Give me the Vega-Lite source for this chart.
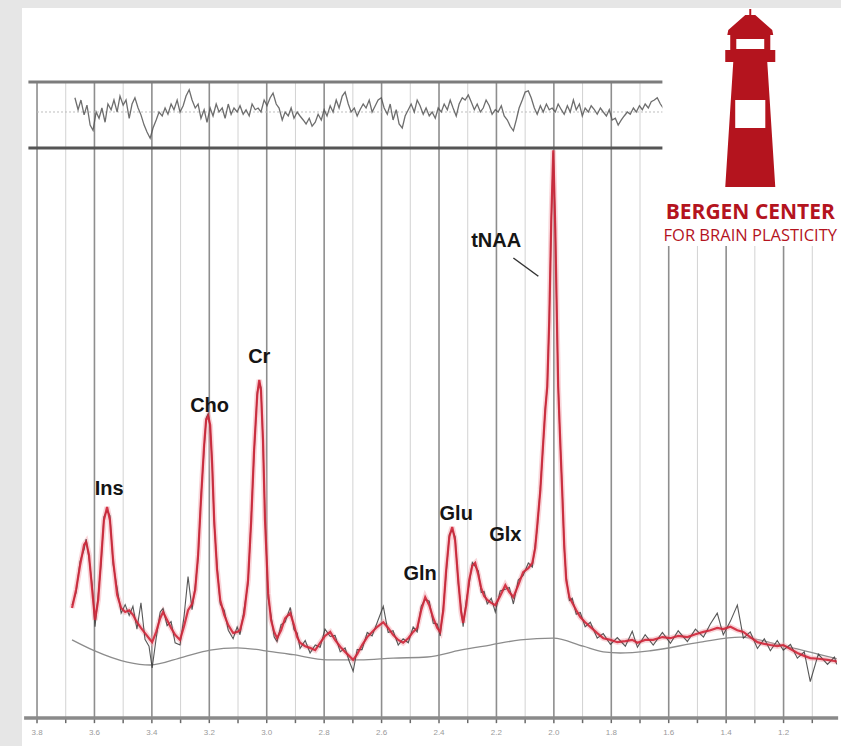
{
  "$schema": "https://vega.github.io/schema/vega-lite/v6.json",
  "padding": {"left": 22, "top": 8, "right": 0, "bottom": 0},
  "background": "#e6e6e6",
  "spacing": 0,
  "bounds": "flush",
  "config": {"view": {"fill": "white", "stroke": null}, "font": "Liberation Sans", "concat": {"spacing": 0}},
  "datasets": {
    "grid": [
      {"ppm": 3.8, "kind": "major"}, {"ppm": 3.7, "kind": "minor"}, {"ppm": 3.6, "kind": "major"}, {"ppm": 3.5, "kind": "minor"},
      {"ppm": 3.4, "kind": "major"}, {"ppm": 3.3, "kind": "minor"}, {"ppm": 3.2, "kind": "major"}, {"ppm": 3.1, "kind": "minor"},
      {"ppm": 3.0, "kind": "major"}, {"ppm": 2.9, "kind": "minor"}, {"ppm": 2.8, "kind": "major"}, {"ppm": 2.7, "kind": "minor"},
      {"ppm": 2.6, "kind": "major"}, {"ppm": 2.5, "kind": "minor"}, {"ppm": 2.4, "kind": "major"}, {"ppm": 2.3, "kind": "minor"},
      {"ppm": 2.2, "kind": "major"}, {"ppm": 2.1, "kind": "minor"}, {"ppm": 2.0, "kind": "major"}, {"ppm": 1.9, "kind": "minor"},
      {"ppm": 1.8, "kind": "major"}, {"ppm": 1.7, "kind": "minor"}, {"ppm": 1.6, "kind": "major"}, {"ppm": 1.5, "kind": "minor"},
      {"ppm": 1.4, "kind": "major"}, {"ppm": 1.3, "kind": "minor"}, {"ppm": 1.2, "kind": "major"}, {"ppm": 1.1, "kind": "minor"}
    ],
    "spectrum": [
      {"ppm": 3.678, "fit": 19.3, "data": 19.8}, {"ppm": 3.664, "fit": 22.5, "data": 22.0}, {"ppm": 3.650, "fit": 26.8, "data": 27.5},
      {"ppm": 3.636, "fit": 30.4, "data": 29.6}, {"ppm": 3.629, "fit": 30.9, "data": 31.4}, {"ppm": 3.619, "fit": 28.6, "data": 28.0},
      {"ppm": 3.608, "fit": 22.5, "data": 23.4}, {"ppm": 3.598, "fit": 17.2, "data": 16.0}, {"ppm": 3.587, "fit": 20.7, "data": 21.5},
      {"ppm": 3.577, "fit": 27.7, "data": 27.0}, {"ppm": 3.567, "fit": 34.7, "data": 35.3}, {"ppm": 3.556, "fit": 37.0, "data": 36.4},
      {"ppm": 3.546, "fit": 34.7, "data": 35.5}, {"ppm": 3.535, "fit": 27.7, "data": 27.0}, {"ppm": 3.521, "fit": 21.6, "data": 22.8},
      {"ppm": 3.507, "fit": 19.3, "data": 18.4}, {"ppm": 3.493, "fit": 18.6, "data": 19.9}, {"ppm": 3.479, "fit": 18.9, "data": 18.0},
      {"ppm": 3.466, "fit": 18.1, "data": 19.6}, {"ppm": 3.452, "fit": 16.8, "data": 15.6}, {"ppm": 3.438, "fit": 15.8, "data": 20.2},
      {"ppm": 3.424, "fit": 14.9, "data": 13.8}, {"ppm": 3.410, "fit": 14.0, "data": 12.6}, {"ppm": 3.399, "fit": 13.3, "data": 8.8},
      {"ppm": 3.385, "fit": 15.1, "data": 14.0}, {"ppm": 3.371, "fit": 17.5, "data": 18.6}, {"ppm": 3.361, "fit": 18.6, "data": 19.2},
      {"ppm": 3.347, "fit": 17.2, "data": 16.2}, {"ppm": 3.333, "fit": 15.8, "data": 16.9}, {"ppm": 3.319, "fit": 14.6, "data": 13.2},
      {"ppm": 3.302, "fit": 13.7, "data": 12.8}, {"ppm": 3.288, "fit": 16.1, "data": 17.8}, {"ppm": 3.274, "fit": 18.9, "data": 24.8},
      {"ppm": 3.260, "fit": 20.0, "data": 19.0}, {"ppm": 3.249, "fit": 22.5, "data": 23.2}, {"ppm": 3.239, "fit": 28.6, "data": 28.0},
      {"ppm": 3.229, "fit": 38.2, "data": 38.8}, {"ppm": 3.218, "fit": 47.9, "data": 47.2}, {"ppm": 3.211, "fit": 52.3, "data": 52.6},
      {"ppm": 3.204, "fit": 53.0, "data": 53.4}, {"ppm": 3.197, "fit": 51.4, "data": 51.0}, {"ppm": 3.190, "fit": 44.4, "data": 45.0},
      {"ppm": 3.183, "fit": 34.7, "data": 34.0}, {"ppm": 3.173, "fit": 26.0, "data": 26.8}, {"ppm": 3.162, "fit": 20.7, "data": 20.0},
      {"ppm": 3.148, "fit": 18.1, "data": 18.9}, {"ppm": 3.134, "fit": 16.3, "data": 15.4}, {"ppm": 3.117, "fit": 14.9, "data": 13.9},
      {"ppm": 3.103, "fit": 15.1, "data": 16.0}, {"ppm": 3.093, "fit": 15.4, "data": 14.6}, {"ppm": 3.079, "fit": 18.1, "data": 19.0},
      {"ppm": 3.065, "fit": 24.2, "data": 23.6}, {"ppm": 3.054, "fit": 34.7, "data": 35.2}, {"ppm": 3.044, "fit": 47.0, "data": 46.4},
      {"ppm": 3.033, "fit": 56.7, "data": 57.2}, {"ppm": 3.026, "fit": 59.3, "data": 58.8}, {"ppm": 3.020, "fit": 57.5, "data": 58.0},
      {"ppm": 3.013, "fit": 48.8, "data": 48.2}, {"ppm": 3.006, "fit": 34.7, "data": 35.4}, {"ppm": 2.995, "fit": 21.9, "data": 21.0},
      {"ppm": 2.985, "fit": 17.2, "data": 18.0}, {"ppm": 2.974, "fit": 15.1, "data": 14.2}, {"ppm": 2.964, "fit": 14.0, "data": 13.4},
      {"ppm": 2.950, "fit": 15.4, "data": 16.4}, {"ppm": 2.936, "fit": 17.5, "data": 16.8}, {"ppm": 2.918, "fit": 18.4, "data": 19.4},
      {"ppm": 2.905, "fit": 16.3, "data": 15.5}, {"ppm": 2.894, "fit": 14.2, "data": 14.9}, {"ppm": 2.884, "fit": 13.2, "data": 12.2},
      {"ppm": 2.866, "fit": 12.6, "data": 13.6}, {"ppm": 2.849, "fit": 12.3, "data": 11.4}, {"ppm": 2.831, "fit": 11.9, "data": 12.8},
      {"ppm": 2.814, "fit": 13.2, "data": 12.4}, {"ppm": 2.797, "fit": 14.4, "data": 15.6}, {"ppm": 2.779, "fit": 15.1, "data": 14.3},
      {"ppm": 2.762, "fit": 13.7, "data": 14.5}, {"ppm": 2.744, "fit": 12.5, "data": 11.6}, {"ppm": 2.727, "fit": 11.6, "data": 12.3},
      {"ppm": 2.713, "fit": 10.9, "data": 10.0}, {"ppm": 2.699, "fit": 10.2, "data": 8.2}, {"ppm": 2.685, "fit": 11.2, "data": 12.0},
      {"ppm": 2.668, "fit": 12.8, "data": 12.0}, {"ppm": 2.650, "fit": 14.2, "data": 15.0}, {"ppm": 2.633, "fit": 15.1, "data": 14.4},
      {"ppm": 2.615, "fit": 16.0, "data": 16.8}, {"ppm": 2.594, "fit": 16.8, "data": 19.6}, {"ppm": 2.577, "fit": 15.8, "data": 15.0},
      {"ppm": 2.560, "fit": 14.6, "data": 15.3}, {"ppm": 2.542, "fit": 13.7, "data": 12.8}, {"ppm": 2.525, "fit": 13.2, "data": 13.9},
      {"ppm": 2.507, "fit": 14.0, "data": 13.2}, {"ppm": 2.490, "fit": 15.1, "data": 16.0}, {"ppm": 2.476, "fit": 15.8, "data": 15.1},
      {"ppm": 2.462, "fit": 18.9, "data": 19.6}, {"ppm": 2.448, "fit": 21.2, "data": 20.8}, {"ppm": 2.434, "fit": 19.8, "data": 20.5},
      {"ppm": 2.420, "fit": 17.5, "data": 16.6}, {"ppm": 2.406, "fit": 15.8, "data": 16.5}, {"ppm": 2.396, "fit": 15.1, "data": 14.4},
      {"ppm": 2.385, "fit": 18.9, "data": 19.5}, {"ppm": 2.375, "fit": 26.0, "data": 25.4}, {"ppm": 2.364, "fit": 31.8, "data": 32.2},
      {"ppm": 2.354, "fit": 33.5, "data": 33.0}, {"ppm": 2.344, "fit": 31.2, "data": 31.8}, {"ppm": 2.333, "fit": 24.2, "data": 23.6},
      {"ppm": 2.323, "fit": 18.6, "data": 19.3}, {"ppm": 2.316, "fit": 16.7, "data": 16.0}, {"ppm": 2.305, "fit": 19.8, "data": 20.6},
      {"ppm": 2.295, "fit": 24.2, "data": 23.5}, {"ppm": 2.284, "fit": 26.7, "data": 27.3}, {"ppm": 2.274, "fit": 27.2, "data": 26.6},
      {"ppm": 2.263, "fit": 25.1, "data": 25.8}, {"ppm": 2.253, "fit": 22.8, "data": 22.0}, {"ppm": 2.243, "fit": 21.4, "data": 22.2},
      {"ppm": 2.232, "fit": 20.7, "data": 20.0}, {"ppm": 2.218, "fit": 20.2, "data": 21.0}, {"ppm": 2.204, "fit": 19.8, "data": 18.6},
      {"ppm": 2.187, "fit": 21.4, "data": 22.3}, {"ppm": 2.169, "fit": 23.3, "data": 22.6}, {"ppm": 2.155, "fit": 22.1, "data": 22.9},
      {"ppm": 2.141, "fit": 21.2, "data": 20.0}, {"ppm": 2.124, "fit": 23.3, "data": 24.2}, {"ppm": 2.107, "fit": 25.6, "data": 25.0},
      {"ppm": 2.089, "fit": 26.3, "data": 27.2}, {"ppm": 2.075, "fit": 27.2, "data": 26.5}, {"ppm": 2.065, "fit": 29.8, "data": 30.4},
      {"ppm": 2.058, "fit": 33.7, "data": 33.2}, {"ppm": 2.047, "fit": 40.0, "data": 40.5}, {"ppm": 2.040, "fit": 46.0, "data": 45.6},
      {"ppm": 2.030, "fit": 54.0, "data": 54.4}, {"ppm": 2.023, "fit": 58.2, "data": 57.9}, {"ppm": 2.016, "fit": 69.8, "data": 70.2},
      {"ppm": 2.009, "fit": 87.4, "data": 87.0}, {"ppm": 2.002, "fit": 99.6, "data": 99.2}, {"ppm": 1.995, "fit": 85.6, "data": 86.0},
      {"ppm": 1.988, "fit": 66.3, "data": 65.8}, {"ppm": 1.985, "fit": 58.2, "data": 58.6}, {"ppm": 1.978, "fit": 48.8, "data": 48.3},
      {"ppm": 1.971, "fit": 39.8, "data": 40.3}, {"ppm": 1.964, "fit": 30.4, "data": 29.8}, {"ppm": 1.957, "fit": 24.2, "data": 24.8},
      {"ppm": 1.946, "fit": 21.2, "data": 20.6}, {"ppm": 1.936, "fit": 20.2, "data": 21.0}, {"ppm": 1.922, "fit": 18.9, "data": 18.2},
      {"ppm": 1.908, "fit": 17.7, "data": 18.5}, {"ppm": 1.891, "fit": 16.8, "data": 16.0}, {"ppm": 1.873, "fit": 16.0, "data": 16.8},
      {"ppm": 1.849, "fit": 14.9, "data": 14.0}, {"ppm": 1.828, "fit": 14.0, "data": 14.8}, {"ppm": 1.803, "fit": 13.7, "data": 12.9},
      {"ppm": 1.779, "fit": 13.3, "data": 14.1}, {"ppm": 1.751, "fit": 13.5, "data": 12.6}, {"ppm": 1.727, "fit": 13.7, "data": 15.2},
      {"ppm": 1.709, "fit": 13.2, "data": 12.4}, {"ppm": 1.682, "fit": 13.7, "data": 14.6}, {"ppm": 1.654, "fit": 13.7, "data": 12.8},
      {"ppm": 1.622, "fit": 14.2, "data": 15.0}, {"ppm": 1.594, "fit": 14.0, "data": 13.1}, {"ppm": 1.567, "fit": 14.4, "data": 15.3},
      {"ppm": 1.535, "fit": 14.2, "data": 13.4}, {"ppm": 1.507, "fit": 14.7, "data": 15.6}, {"ppm": 1.479, "fit": 15.1, "data": 14.2},
      {"ppm": 1.455, "fit": 15.4, "data": 16.5}, {"ppm": 1.431, "fit": 15.8, "data": 18.4}, {"ppm": 1.410, "fit": 15.6, "data": 14.6},
      {"ppm": 1.385, "fit": 16.0, "data": 17.0}, {"ppm": 1.361, "fit": 15.4, "data": 19.8}, {"ppm": 1.340, "fit": 15.1, "data": 14.0},
      {"ppm": 1.316, "fit": 14.2, "data": 15.1}, {"ppm": 1.291, "fit": 13.3, "data": 12.2}, {"ppm": 1.267, "fit": 13.0, "data": 13.9},
      {"ppm": 1.246, "fit": 12.8, "data": 11.8}, {"ppm": 1.222, "fit": 12.6, "data": 13.6}, {"ppm": 1.201, "fit": 12.8, "data": 11.9},
      {"ppm": 1.176, "fit": 12.1, "data": 12.9}, {"ppm": 1.152, "fit": 11.4, "data": 10.5}, {"ppm": 1.128, "fit": 10.9, "data": 11.6},
      {"ppm": 1.107, "fit": 10.5, "data": 6.4}, {"ppm": 1.079, "fit": 10.4, "data": 11.2}, {"ppm": 1.047, "fit": 10.2, "data": 9.4},
      {"ppm": 1.023, "fit": 10.0, "data": 10.7}, {"ppm": 1.015, "fit": 9.9, "data": 9.4}
    ],
    "baseline": [
      {"ppm": 3.678, "value": 13.7}, {"ppm": 3.605, "value": 11.9}, {"ppm": 3.486, "value": 9.8}, {"ppm": 3.406, "value": 9.3},
      {"ppm": 3.291, "value": 10.7}, {"ppm": 3.197, "value": 11.9}, {"ppm": 3.103, "value": 12.3}, {"ppm": 2.978, "value": 11.6},
      {"ppm": 2.908, "value": 11.1}, {"ppm": 2.790, "value": 10.2}, {"ppm": 2.675, "value": 10.2}, {"ppm": 2.560, "value": 10.5},
      {"ppm": 2.441, "value": 10.7}, {"ppm": 2.326, "value": 11.9}, {"ppm": 2.222, "value": 12.8}, {"ppm": 2.117, "value": 13.7},
      {"ppm": 2.002, "value": 14.0}, {"ppm": 1.898, "value": 12.6}, {"ppm": 1.828, "value": 11.6}, {"ppm": 1.769, "value": 11.4},
      {"ppm": 1.664, "value": 11.8}, {"ppm": 1.490, "value": 13.3}, {"ppm": 1.351, "value": 14.2}, {"ppm": 1.211, "value": 12.8},
      {"ppm": 1.015, "value": 10.4}
    ],
    "residual": [
      {"ppm": 3.668, "res": 2.5}, {"ppm": 3.657, "res": 0.4}, {"ppm": 3.647, "res": 2.1}, {"ppm": 3.636, "res": -0.5},
      {"ppm": 3.626, "res": 1.2}, {"ppm": 3.615, "res": -2.3}, {"ppm": 3.605, "res": -3.2}, {"ppm": 3.594, "res": 0},
      {"ppm": 3.584, "res": -1.1}, {"ppm": 3.574, "res": 0.7}, {"ppm": 3.563, "res": -1.8}, {"ppm": 3.553, "res": 1.4},
      {"ppm": 3.542, "res": 0.4}, {"ppm": 3.532, "res": 2.1}, {"ppm": 3.521, "res": 0}, {"ppm": 3.511, "res": 2.8},
      {"ppm": 3.500, "res": 1.2}, {"ppm": 3.490, "res": 2.1}, {"ppm": 3.479, "res": -1.1}, {"ppm": 3.469, "res": 1.4},
      {"ppm": 3.459, "res": 2.5}, {"ppm": 3.448, "res": 0.7}, {"ppm": 3.438, "res": -0.5}, {"ppm": 3.427, "res": -2.3},
      {"ppm": 3.417, "res": -3.5}, {"ppm": 3.406, "res": -4.6}, {"ppm": 3.396, "res": -2.8}, {"ppm": 3.385, "res": -1.4},
      {"ppm": 3.375, "res": 0}, {"ppm": 3.364, "res": -0.7}, {"ppm": 3.354, "res": 0.7}, {"ppm": 3.344, "res": -0.4},
      {"ppm": 3.333, "res": 1.4}, {"ppm": 3.323, "res": 0.4}, {"ppm": 3.312, "res": 2.1}, {"ppm": 3.302, "res": 0},
      {"ppm": 3.291, "res": 1.1}, {"ppm": 3.281, "res": 2.8}, {"ppm": 3.270, "res": 3.9}, {"ppm": 3.260, "res": 2.1},
      {"ppm": 3.249, "res": 0.7}, {"ppm": 3.239, "res": 1.4}, {"ppm": 3.229, "res": -1.1}, {"ppm": 3.218, "res": 0.4},
      {"ppm": 3.208, "res": -1.8}, {"ppm": 3.197, "res": 0.7}, {"ppm": 3.187, "res": -0.7}, {"ppm": 3.176, "res": 1.4},
      {"ppm": 3.166, "res": 0}, {"ppm": 3.155, "res": 0.7}, {"ppm": 3.145, "res": -1.1}, {"ppm": 3.134, "res": 1.4},
      {"ppm": 3.124, "res": -0.4}, {"ppm": 3.114, "res": 0.7}, {"ppm": 3.103, "res": 0}, {"ppm": 3.093, "res": 1.1},
      {"ppm": 3.082, "res": -0.4}, {"ppm": 3.072, "res": 0.4}, {"ppm": 3.061, "res": -0.7}, {"ppm": 3.051, "res": 1.4},
      {"ppm": 3.040, "res": 0.4}, {"ppm": 3.030, "res": 0.7}, {"ppm": 3.020, "res": 0}, {"ppm": 3.009, "res": 2.1},
      {"ppm": 2.999, "res": 1.1}, {"ppm": 2.988, "res": 2.5}, {"ppm": 2.978, "res": 3.3}, {"ppm": 2.967, "res": 1.4},
      {"ppm": 2.957, "res": 0.7}, {"ppm": 2.946, "res": -1.4}, {"ppm": 2.936, "res": 0}, {"ppm": 2.925, "res": -0.7},
      {"ppm": 2.915, "res": 0.7}, {"ppm": 2.905, "res": -1.1}, {"ppm": 2.894, "res": 0}, {"ppm": 2.884, "res": -0.7},
      {"ppm": 2.873, "res": -1.4}, {"ppm": 2.863, "res": -2.1}, {"ppm": 2.852, "res": -1.1}, {"ppm": 2.842, "res": -2.5},
      {"ppm": 2.831, "res": -1.8}, {"ppm": 2.821, "res": -0.4}, {"ppm": 2.810, "res": -1.4}, {"ppm": 2.800, "res": 0.4},
      {"ppm": 2.790, "res": -0.7}, {"ppm": 2.779, "res": 1.1}, {"ppm": 2.769, "res": 0}, {"ppm": 2.758, "res": 2.1},
      {"ppm": 2.748, "res": 0.7}, {"ppm": 2.737, "res": 2.8}, {"ppm": 2.727, "res": 3.5}, {"ppm": 2.716, "res": 1.4},
      {"ppm": 2.706, "res": 0}, {"ppm": 2.695, "res": 0.7}, {"ppm": 2.685, "res": -0.7}, {"ppm": 2.675, "res": 0.4},
      {"ppm": 2.664, "res": 1.4}, {"ppm": 2.654, "res": 0.7}, {"ppm": 2.643, "res": 2.1}, {"ppm": 2.633, "res": 0},
      {"ppm": 2.622, "res": 1.1}, {"ppm": 2.612, "res": 2.1}, {"ppm": 2.601, "res": 2.5}, {"ppm": 2.591, "res": 0.7},
      {"ppm": 2.580, "res": -0.4}, {"ppm": 2.570, "res": 1.4}, {"ppm": 2.560, "res": -1.4}, {"ppm": 2.549, "res": 0.4},
      {"ppm": 2.539, "res": -2.1}, {"ppm": 2.528, "res": -2.8}, {"ppm": 2.518, "res": -0.7}, {"ppm": 2.507, "res": 0.4},
      {"ppm": 2.497, "res": 1.4}, {"ppm": 2.486, "res": 0}, {"ppm": 2.476, "res": 2.1}, {"ppm": 2.466, "res": 1.1},
      {"ppm": 2.455, "res": -0.4}, {"ppm": 2.445, "res": 0.7}, {"ppm": 2.434, "res": -0.7}, {"ppm": 2.424, "res": 0},
      {"ppm": 2.413, "res": -1.1}, {"ppm": 2.403, "res": 0.7}, {"ppm": 2.392, "res": 0}, {"ppm": 2.382, "res": 1.4},
      {"ppm": 2.371, "res": 0.4}, {"ppm": 2.361, "res": 2.1}, {"ppm": 2.351, "res": 0.7}, {"ppm": 2.340, "res": -0.7},
      {"ppm": 2.330, "res": 1.4}, {"ppm": 2.319, "res": 2.5}, {"ppm": 2.309, "res": 2.1}, {"ppm": 2.298, "res": 3.0},
      {"ppm": 2.288, "res": 1.8}, {"ppm": 2.277, "res": 0.4}, {"ppm": 2.267, "res": 1.4}, {"ppm": 2.256, "res": 0},
      {"ppm": 2.246, "res": 0.7}, {"ppm": 2.236, "res": 2.1}, {"ppm": 2.225, "res": 1.1}, {"ppm": 2.215, "res": -0.4},
      {"ppm": 2.204, "res": 0.4}, {"ppm": 2.194, "res": 0}, {"ppm": 2.183, "res": 1.1}, {"ppm": 2.173, "res": -0.7},
      {"ppm": 2.162, "res": -1.4}, {"ppm": 2.152, "res": -2.5}, {"ppm": 2.141, "res": -3.3}, {"ppm": 2.131, "res": -1.4},
      {"ppm": 2.121, "res": 0.7}, {"ppm": 2.110, "res": 2.1}, {"ppm": 2.100, "res": 3.5}, {"ppm": 2.089, "res": 3.7},
      {"ppm": 2.079, "res": 2.5}, {"ppm": 2.068, "res": 0.7}, {"ppm": 2.058, "res": -0.4}, {"ppm": 2.047, "res": 1.1},
      {"ppm": 2.037, "res": 0}, {"ppm": 2.026, "res": 1.4}, {"ppm": 2.016, "res": 0.4}, {"ppm": 2.006, "res": 0.7},
      {"ppm": 1.995, "res": 0}, {"ppm": 1.985, "res": 1.4}, {"ppm": 1.974, "res": 0.4}, {"ppm": 1.964, "res": -0.4},
      {"ppm": 1.953, "res": 1.1}, {"ppm": 1.943, "res": 0}, {"ppm": 1.932, "res": 2.1}, {"ppm": 1.922, "res": 0.4},
      {"ppm": 1.911, "res": 1.4}, {"ppm": 1.901, "res": -0.7}, {"ppm": 1.891, "res": 0.7}, {"ppm": 1.880, "res": 0},
      {"ppm": 1.870, "res": 1.1}, {"ppm": 1.859, "res": 0.4}, {"ppm": 1.849, "res": -0.4}, {"ppm": 1.838, "res": 0.7},
      {"ppm": 1.828, "res": 0}, {"ppm": 1.817, "res": -0.7}, {"ppm": 1.807, "res": 0.4}, {"ppm": 1.797, "res": -1.4},
      {"ppm": 1.786, "res": -1.1}, {"ppm": 1.776, "res": -2.3}, {"ppm": 1.765, "res": -1.4}, {"ppm": 1.755, "res": -0.7},
      {"ppm": 1.744, "res": 0}, {"ppm": 1.734, "res": -0.4}, {"ppm": 1.723, "res": 0.7}, {"ppm": 1.713, "res": 0},
      {"ppm": 1.702, "res": 1.1}, {"ppm": 1.692, "res": 0.4}, {"ppm": 1.682, "res": 1.4}, {"ppm": 1.671, "res": 0.7},
      {"ppm": 1.661, "res": 1.8}, {"ppm": 1.650, "res": 2.1}, {"ppm": 1.640, "res": 2.5}, {"ppm": 1.629, "res": 1.4},
      {"ppm": 1.619, "res": 0.7}
    ],
    "labels": [
      {"label": "Ins", "ppm": 3.549, "y": 40.2},
      {"label": "Cho", "ppm": 3.199, "y": 54.7},
      {"label": "Cr", "ppm": 3.026, "y": 63.3},
      {"label": "Gln", "ppm": 2.466, "y": 25.3},
      {"label": "Glu", "ppm": 2.340, "y": 35.8},
      {"label": "Glx", "ppm": 2.169, "y": 32.1},
      {"label": "tNAA", "ppm": 2.201, "y": 83.7}
    ]
  },
  "vconcat": [
    {
      "width": 819,
      "height": 140,
      "layer": [
        {
          "data": {"name": "grid"},
          "transform": [{"filter": "datum.kind == 'minor'"}],
          "mark": {"type": "rule", "color": "#d2d2d2", "strokeWidth": 1},
          "encoding": {
            "x": {"field": "ppm", "type": "quantitative", "scale": {"domain": [1.0, 3.8523], "reverse": true, "nice": false, "zero": false}, "axis": null},
            "y": {"datum": -6.316, "type": "quantitative", "scale": {"domain": [-6.316, 18.246], "nice": false, "zero": false}, "axis": null},
            "y2": {"datum": 5.263}
          }
        },
        {
          "data": {"name": "grid"},
          "transform": [{"filter": "datum.kind == 'major'"}],
          "mark": {"type": "rule", "color": "#8e8e8e", "strokeWidth": 1.6},
          "encoding": {
            "x": {"field": "ppm", "type": "quantitative", "scale": {"domain": [1.0, 3.8523], "reverse": true, "nice": false, "zero": false}, "axis": null},
            "y": {"datum": -6.316, "type": "quantitative", "scale": {"domain": [-6.316, 18.246], "nice": false, "zero": false}, "axis": null},
            "y2": {"datum": 5.263}
          }
        },
        {
          "data": {"values": [{}]},
          "mark": {"type": "rule", "color": "#bdbdbd", "strokeWidth": 1, "strokeDash": [2, 2]},
          "encoding": {
            "x": {"datum": 3.8, "type": "quantitative", "scale": {"domain": [1.0, 3.8523], "reverse": true, "nice": false, "zero": false}, "axis": null},
            "x2": {"datum": 1.01},
            "y": {"datum": 0, "type": "quantitative", "scale": {"domain": [-6.316, 18.246], "nice": false, "zero": false}, "axis": null}
          }
        },
        {
          "data": {"name": "residual"},
          "mark": {"type": "line", "color": "#555555", "strokeWidth": 1.3, "opacity": 0.85},
          "encoding": {
            "x": {"field": "ppm", "type": "quantitative", "scale": {"domain": [1.0, 3.8523], "reverse": true, "nice": false, "zero": false}, "axis": null},
            "y": {"field": "res", "type": "quantitative", "scale": {"domain": [-6.316, 18.246], "nice": false, "zero": false}, "axis": null}
          }
        },
        {
          "data": {"values": [{}]},
          "mark": {"type": "rule", "color": "#7c7c7c", "strokeWidth": 3},
          "encoding": {
            "x": {"datum": 3.83, "type": "quantitative", "scale": {"domain": [1.0, 3.8523], "reverse": true, "nice": false, "zero": false}, "axis": null},
            "x2": {"datum": 1.01},
            "y": {"datum": 5.263, "type": "quantitative", "scale": {"domain": [-6.316, 18.246], "nice": false, "zero": false}, "axis": null}
          }
        }
      ]
    },
    {
      "width": 819,
      "height": 598,
      "layer": [
        {
          "data": {"name": "grid"},
          "transform": [{"filter": "datum.kind == 'minor'"}],
          "mark": {"type": "rule", "color": "#d2d2d2", "strokeWidth": 1},
          "encoding": {
            "x": {"field": "ppm", "type": "quantitative", "scale": {"domain": [1.0, 3.8523], "reverse": true, "nice": false, "zero": false}, "axis": null},
            "y": {"datum": 0, "type": "quantitative", "scale": {"domain": [-4.912, 100], "nice": false, "zero": false}, "axis": null},
            "y2": {"datum": 100}
          }
        },
        {
          "data": {"name": "grid"},
          "transform": [{"filter": "datum.kind == 'major'"}],
          "mark": {"type": "rule", "color": "#8e8e8e", "strokeWidth": 1.6},
          "encoding": {
            "x": {"field": "ppm", "type": "quantitative", "scale": {"domain": [1.0, 3.8523], "reverse": true, "nice": false, "zero": false}, "axis": null},
            "y": {"datum": 0, "type": "quantitative", "scale": {"domain": [-4.912, 100], "nice": false, "zero": false}, "axis": null},
            "y2": {"datum": 100}
          }
        },
        {
          "data": {"name": "grid"},
          "mark": {"type": "rule", "color": "#6a6a6a", "strokeWidth": 1.5},
          "encoding": {
            "x": {"field": "ppm", "type": "quantitative", "scale": {"domain": [1.0, 3.8523], "reverse": true, "nice": false, "zero": false}, "axis": null},
            "y": {"datum": 0, "type": "quantitative", "scale": {"domain": [-4.912, 100], "nice": false, "zero": false}, "axis": null},
            "y2": {"datum": -0.9}
          }
        },
        {
          "data": {"values": [{}]},
          "mark": {"type": "rule", "color": "#8a8a8a", "strokeWidth": 3.5},
          "encoding": {
            "x": {"datum": 3.845, "type": "quantitative", "scale": {"domain": [1.0, 3.8523], "reverse": true, "nice": false, "zero": false}, "axis": null},
            "x2": {"datum": 1.01},
            "y": {"datum": 0, "type": "quantitative", "scale": {"domain": [-4.912, 100], "nice": false, "zero": false}, "axis": null}
          }
        },
        {
          "data": {"name": "grid"},
          "transform": [{"filter": "datum.kind == 'major'"}],
          "mark": {"type": "text", "fontSize": 8, "color": "#9a9a9a", "align": "center", "baseline": "middle"},
          "encoding": {
            "x": {"field": "ppm", "type": "quantitative", "scale": {"domain": [1.0, 3.8523], "reverse": true, "nice": false, "zero": false}, "axis": null},
            "y": {"datum": -2.63, "type": "quantitative", "scale": {"domain": [-4.912, 100], "nice": false, "zero": false}, "axis": null},
            "text": {"field": "ppm", "type": "quantitative", "format": ".1f"}
          }
        },
        {
          "data": {"name": "baseline"},
          "mark": {"type": "line", "color": "#8c8c8c", "strokeWidth": 1.3, "interpolate": "monotone"},
          "encoding": {
            "x": {"field": "ppm", "type": "quantitative", "scale": {"domain": [1.0, 3.8523], "reverse": true, "nice": false, "zero": false}, "axis": null},
            "y": {"field": "value", "type": "quantitative", "scale": {"domain": [-4.912, 100], "nice": false, "zero": false}, "axis": null}
          }
        },
        {
          "data": {"name": "spectrum"},
          "mark": {"type": "line", "color": "#f2a3ad", "strokeWidth": 5.5, "opacity": 0.45},
          "encoding": {
            "x": {"field": "ppm", "type": "quantitative", "scale": {"domain": [1.0, 3.8523], "reverse": true, "nice": false, "zero": false}, "axis": null},
            "y": {"field": "fit", "type": "quantitative", "scale": {"domain": [-4.912, 100], "nice": false, "zero": false}, "axis": null}
          }
        },
        {
          "data": {"name": "spectrum"},
          "mark": {"type": "line", "color": "#3a3a3a", "strokeWidth": 1.1, "opacity": 0.85},
          "encoding": {
            "x": {"field": "ppm", "type": "quantitative", "scale": {"domain": [1.0, 3.8523], "reverse": true, "nice": false, "zero": false}, "axis": null},
            "y": {"field": "data", "type": "quantitative", "scale": {"domain": [-4.912, 100], "nice": false, "zero": false}, "axis": null}
          }
        },
        {
          "data": {"name": "spectrum"},
          "mark": {"type": "line", "color": "#cf2638", "strokeWidth": 2.2, "opacity": 0.9},
          "encoding": {
            "x": {"field": "ppm", "type": "quantitative", "scale": {"domain": [1.0, 3.8523], "reverse": true, "nice": false, "zero": false}, "axis": null},
            "y": {"field": "fit", "type": "quantitative", "scale": {"domain": [-4.912, 100], "nice": false, "zero": false}, "axis": null}
          }
        },
        {
          "data": {"values": [{}]},
          "mark": {"type": "rule", "color": "#555555", "strokeWidth": 3},
          "encoding": {
            "x": {"datum": 3.83, "type": "quantitative", "scale": {"domain": [1.0, 3.8523], "reverse": true, "nice": false, "zero": false}, "axis": null},
            "x2": {"datum": 1.01},
            "y": {"datum": 100, "type": "quantitative", "scale": {"domain": [-4.912, 100], "nice": false, "zero": false}, "axis": null}
          }
        },
        {
          "data": {"name": "labels"},
          "mark": {"type": "text", "font": "Liberation Sans", "fontWeight": "bold", "fontSize": 20, "color": "#151515", "baseline": "middle", "align": "center"},
          "encoding": {
            "x": {"field": "ppm", "type": "quantitative", "scale": {"domain": [1.0, 3.8523], "reverse": true, "nice": false, "zero": false}, "axis": null},
            "y": {"field": "y", "type": "quantitative", "scale": {"domain": [-4.912, 100], "nice": false, "zero": false}, "axis": null},
            "text": {"field": "label"}
          }
        },
        {
          "data": {"values": [{}]},
          "mark": {"type": "rule", "color": "#333333", "strokeWidth": 1.5},
          "encoding": {
            "x": {"datum": 2.141, "type": "quantitative", "scale": {"domain": [1.0, 3.8523], "reverse": true, "nice": false, "zero": false}, "axis": null},
            "x2": {"datum": 2.054},
            "y": {"datum": 80.7, "type": "quantitative", "scale": {"domain": [-4.912, 100], "nice": false, "zero": false}, "axis": null},
            "y2": {"datum": 77.5}
          }
        },
        {
          "data": {"values": [{}]},
          "mark": {"type": "rect", "fill": "white", "stroke": null},
          "encoding": {
            "x": {"datum": 1.622, "type": "quantitative", "scale": {"domain": [1.0, 3.8523], "reverse": true, "nice": false, "zero": false}, "axis": null},
            "x2": {"datum": 1.0},
            "y": {"datum": 124.4, "type": "quantitative", "scale": {"domain": [-4.912, 100], "nice": false, "zero": false}, "axis": null},
            "y2": {"datum": 82.8}
          }
        },
        {
          "data": {"values": [{}]},
          "mark": {
            "type": "point",
            "shape": "M-0.011,-1L0.011,-1L0.011,-0.933L-0.011,-0.933Z M-0.056,-0.933L0.056,-0.933L0.247,-0.764L0.258,-0.708L-0.258,-0.708L-0.247,-0.764Z M-0.225,-0.708L0.225,-0.708L0.225,-0.539L-0.225,-0.539Z M-0.281,-0.539L0.281,-0.539L0.281,-0.404L-0.281,-0.404Z M-0.191,-0.404L0.191,-0.404L0.281,1L-0.281,1Z",
            "size": 31684, "filled": true, "fill": "#b4141e", "strokeWidth": 0, "opacity": 1
          },
          "encoding": {
            "x": {"datum": 1.316, "type": "quantitative", "scale": {"domain": [1.0, 3.8523], "reverse": true, "nice": false, "zero": false}, "axis": null},
            "y": {"datum": 108.77, "type": "quantitative", "scale": {"domain": [-4.912, 100], "nice": false, "zero": false}, "axis": null}
          }
        },
        {
          "data": {"values": [{}]},
          "mark": {
            "type": "point",
            "shape": "M-0.157,-0.663L0.157,-0.663L0.157,-0.551L-0.157,-0.551Z M-0.169,0.022L0.169,0.022L0.169,0.337L-0.169,0.337Z",
            "size": 31684, "filled": true, "fill": "white", "strokeWidth": 0, "opacity": 1
          },
          "encoding": {
            "x": {"datum": 1.316, "type": "quantitative", "scale": {"domain": [1.0, 3.8523], "reverse": true, "nice": false, "zero": false}, "axis": null},
            "y": {"datum": 108.77, "type": "quantitative", "scale": {"domain": [-4.912, 100], "nice": false, "zero": false}, "axis": null}
          }
        },
        {
          "data": {"values": [{}]},
          "mark": {"type": "text", "text": "BERGEN CENTER", "font": "Open Sans", "fontWeight": "bold", "fontSize": 21, "color": "#b4141e", "align": "center", "baseline": "middle"},
          "encoding": {
            "x": {"datum": 1.316, "type": "quantitative", "scale": {"domain": [1.0, 3.8523], "reverse": true, "nice": false, "zero": false}, "axis": null},
            "y": {"datum": 88.6, "type": "quantitative", "scale": {"domain": [-4.912, 100], "nice": false, "zero": false}, "axis": null}
          }
        },
        {
          "data": {"values": [{}]},
          "mark": {"type": "text", "text": "FOR BRAIN PLASTICITY", "font": "Open Sans", "fontSize": 16.5, "color": "#b4141e", "align": "center", "baseline": "middle"},
          "encoding": {
            "x": {"datum": 1.316, "type": "quantitative", "scale": {"domain": [1.0, 3.8523], "reverse": true, "nice": false, "zero": false}, "axis": null},
            "y": {"datum": 84.56, "type": "quantitative", "scale": {"domain": [-4.912, 100], "nice": false, "zero": false}, "axis": null}
          }
        }
      ]
    }
  ]
}
